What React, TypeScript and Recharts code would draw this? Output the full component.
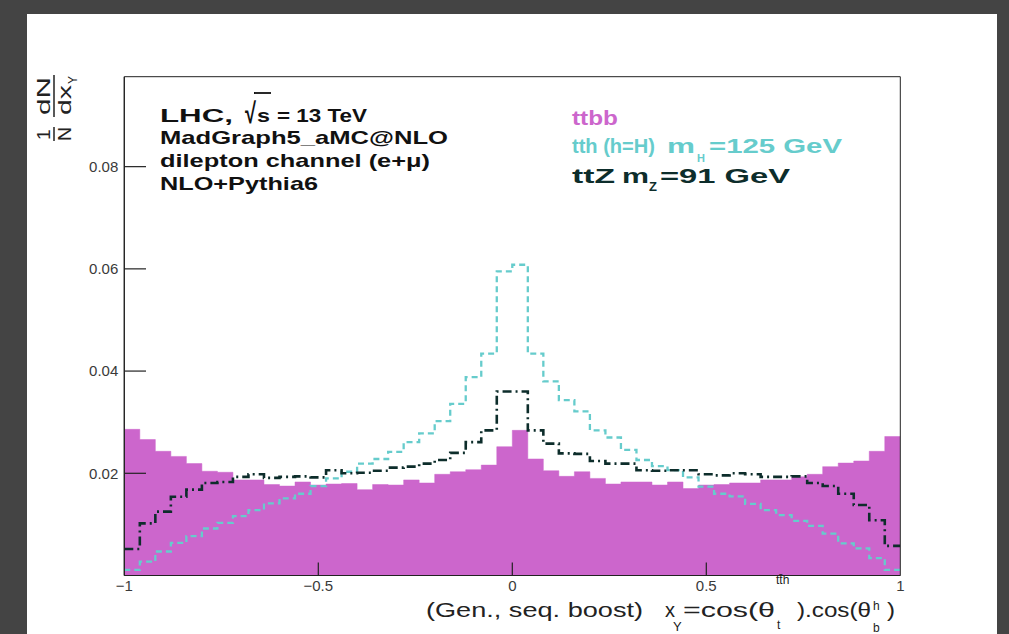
import React from "react";
import { ComposedChart, Area, Line, XAxis, YAxis, ReferenceLine } from "recharts";

// 50 bins from -1 to 1
const ttbb = [
  0.0286, 0.0266, 0.0243, 0.0233, 0.0219, 0.0204, 0.0202, 0.0187, 0.0187, 0.0178,
  0.0175, 0.0183, 0.0177, 0.0179, 0.018, 0.0168, 0.0178, 0.0177, 0.0187, 0.0181,
  0.0198, 0.0203, 0.0207, 0.0216, 0.0252, 0.0284, 0.0228, 0.0205, 0.0194, 0.0203,
  0.019, 0.0179, 0.0183, 0.0183, 0.0177, 0.0183, 0.017, 0.0177, 0.0178, 0.0181,
  0.0181, 0.0187, 0.0187, 0.0193, 0.0198, 0.0213, 0.022, 0.0224, 0.0243, 0.0272,
];
const tth = [
  0.0011, 0.0027, 0.0047, 0.0064, 0.0077, 0.0092, 0.0103, 0.0116, 0.0128, 0.0141,
  0.0151, 0.016, 0.0175, 0.019, 0.0203, 0.0219, 0.0228, 0.0242, 0.0261, 0.0278,
  0.0302, 0.0336, 0.0388, 0.0434, 0.0595, 0.0608, 0.0434, 0.038, 0.0343, 0.0321,
  0.0284, 0.027, 0.0246, 0.0226, 0.0214, 0.0206, 0.0192, 0.0174, 0.016, 0.0155,
  0.014, 0.0128, 0.0118, 0.0107, 0.0097, 0.0082, 0.0063, 0.0053, 0.0034, 0.0011,
];
const ttz = [
  0.0052, 0.0102, 0.0125, 0.0154, 0.0168, 0.0181, 0.0183, 0.0193, 0.0198, 0.0191,
  0.0193, 0.0194, 0.0192, 0.0206, 0.02, 0.0201, 0.0205, 0.0211, 0.0213, 0.0219,
  0.0226, 0.024, 0.0261, 0.0284, 0.036, 0.036, 0.0284, 0.0258, 0.0239, 0.0238,
  0.0224, 0.0219, 0.0219, 0.0206, 0.0205, 0.0206, 0.0206, 0.0198, 0.0196, 0.02,
  0.0198, 0.0193, 0.0193, 0.0194, 0.0181, 0.0175, 0.016, 0.0138, 0.0108, 0.0058,
];

const xTicks = [-1, -0.5, 0, 0.5, 1];
const yTicks = [0.02, 0.04, 0.06, 0.08];
const Y_MAX = 0.0976;

const X_MIN = -1;
const X_MAX = 1;
const BIN_W = (X_MAX - X_MIN) / ttbb.length;

// step data: one point per lower bin edge, plus the closing edge
const rows = ttbb.map((v, i) => ({ x: X_MIN + i * BIN_W, ttbb: v, tth: tth[i], ttz: ttz[i] }));
rows.push({ x: X_MAX, ttbb: ttbb[ttbb.length - 1], tth: tth[tth.length - 1], ttz: ttz[ttz.length - 1] });

// inward ROOT-style tick lengths, as fractions of the axis ranges
const X_TICK_LEN = Y_MAX * 0.026;
const Y_TICK_LEN = (X_MAX - X_MIN) * 0.028;

const FONT = "'Liberation Sans', Arial, Helvetica, sans-serif";
const PINK = "#cc66cc";
const CYAN = "#66cccc";
const DARK = "#0d2d2b";
const INK = "#222";

const fmtX = (v: number) => (v < 0 ? "\u2212" + Math.abs(v) : String(v));

function Labels() {
  const bold = { fontFamily: FONT, fontWeight: 700, fontSize: 19 } as const;
  const reg = { fontFamily: FONT, fontSize: 20 } as const;
  return (
    <svg width={1009} height={634} style={{ position: "absolute", left: 0, top: 0, pointerEvents: "none" }}>
      {/* y title: 1/N dN/dx_Y, rotated */}
      <g transform="translate(54,141) rotate(-90)" fill={INK} style={{ fontFamily: FONT, fontSize: 19 }}>
        <text x={1} y={-4}>1</text>
        <line x1={0} x2={14} y1={0} y2={0} stroke={INK} strokeWidth={1.5} />
        <text x={0} y={17} textLength={14} lengthAdjust="spacingAndGlyphs">N</text>
        <text x={26} y={-4} textLength={38} lengthAdjust="spacingAndGlyphs">dN</text>
        <line x1={24} x2={66} y1={0} y2={0} stroke={INK} strokeWidth={1.5} />
        <text x={26} y={17} textLength={30} lengthAdjust="spacingAndGlyphs">dx</text>
        <text x={57} y={23} style={{ fontSize: 12 }}>Y</text>
      </g>

      {/* left text block */}
      <g fill="#111" style={bold}>
        <text x={160} y={122} textLength={73} lengthAdjust="spacingAndGlyphs">LHC,</text>
        <text transform="translate(245,123) scale(1,1.45)" style={{ fontSize: 20 }}>√</text>
        <line x1={254} x2={271} y1={93} y2={93} stroke="#111" strokeWidth={1.8} />
        <text x={257} y={122} textLength={13} lengthAdjust="spacingAndGlyphs">s</text>
        <text x={277} y={122} textLength={90} lengthAdjust="spacingAndGlyphs">= 13 TeV</text>
        <text x={160} y={144} textLength={288} lengthAdjust="spacingAndGlyphs">MadGraph5_aMC@NLO</text>
        <text x={160} y={167} textLength={270} lengthAdjust="spacingAndGlyphs">dilepton channel (e+μ)</text>
        <text x={160} y={190} textLength={158} lengthAdjust="spacingAndGlyphs">NLO+Pythia6</text>
      </g>

      {/* legend text */}
      <g style={{ ...bold, fontSize: 20 }}>
        <text x={572} y={125} fill={PINK} textLength={46} lengthAdjust="spacingAndGlyphs">ttbb</text>
        <g fill={CYAN}>
          <text x={572} y={153} textLength={83} lengthAdjust="spacingAndGlyphs">tth (h=H)</text>
          <text x={667} y={153} textLength={28} lengthAdjust="spacingAndGlyphs">m</text>
          <text x={697} y={162} style={{ fontSize: 11 }}>H</text>
          <text x={709} y={153} textLength={133} lengthAdjust="spacingAndGlyphs">=125 GeV</text>
        </g>
        <g fill={DARK}>
          <text x={572} y={183} textLength={43} lengthAdjust="spacingAndGlyphs">ttZ</text>
          <text x={622} y={183} textLength={27} lengthAdjust="spacingAndGlyphs">m</text>
          <text x={649} y={191} style={{ fontSize: 13 }}>Z</text>
          <text x={660} y={183} textLength={130} lengthAdjust="spacingAndGlyphs">=91 GeV</text>
        </g>
      </g>

      {/* x title */}
      <g style={reg} fill={INK}>
        <text x={426} y={617} textLength={217} lengthAdjust="spacingAndGlyphs">(Gen., seq. boost)</text>
        <text x={665} y={617} textLength={10} lengthAdjust="spacingAndGlyphs">x</text>
        <text x={673} y={631} style={{ fontSize: 13 }}>Y</text>
        <text x={683} y={617} textLength={92} lengthAdjust="spacingAndGlyphs">=cos(θ</text>
        <text x={776} y={584} style={{ fontSize: 12 }}>tt̄h</text>
        <text x={777} y={629} style={{ fontSize: 12 }}>t</text>
        <text x={797} y={617} textLength={74} lengthAdjust="spacingAndGlyphs">).cos(θ</text>
        <text x={873} y={610} style={{ fontSize: 12 }}>h</text>
        <text x={873} y={632} style={{ fontSize: 12 }}>b</text>
        <text x={887} y={617} textLength={8} lengthAdjust="spacingAndGlyphs">)</text>
      </g>
    </svg>
  );
}

export default function App() {
  const tickStyle = { fontFamily: FONT, fontSize: 15, fill: "#3a3a3a" };
  return (
    <div style={{ position: "fixed", left: 0, top: 0, width: 1009, height: 634, background: "#444444", overflow: "hidden" }}>
      <div style={{ position: "absolute", left: 27, top: 14, width: 970, height: 640, background: "#ffffff" }} />
      <div style={{ position: "absolute", left: 0, top: 0 }}>
        <ComposedChart
          width={1009}
          height={634}
          data={rows}
          margin={{ top: 76.7, right: 108.7, bottom: 28.5, left: 64.3 }}
        >
          <XAxis
            dataKey="x"
            type="number"
            domain={[X_MIN, X_MAX]}
            ticks={xTicks}
            tickFormatter={fmtX}
            allowDataOverflow
            height={30}
            stroke={INK}
            tickLine={false}
            tickSize={-13}
            tickMargin={18}
            tick={tickStyle}
          />
          <YAxis
            type="number"
            domain={[0, Y_MAX]}
            ticks={yTicks}
            tickFormatter={(v: number) => v.toFixed(2)}
            allowDataOverflow
            width={60}
            stroke={INK}
            tickLine={false}
            tickSize={-22}
            tickMargin={28}
            tick={tickStyle}
          />
          <Area
            type="stepAfter"
            dataKey="ttbb"
            stroke={PINK}
            strokeWidth={0.5}
            fill={PINK}
            fillOpacity={1}
            isAnimationActive={false}
            dot={false}
            activeDot={false}
          />
          <Line
            type="stepAfter"
            dataKey="tth"
            stroke={CYAN}
            strokeWidth={2.3}
            strokeDasharray="6 4"
            dot={false}
            activeDot={false}
            isAnimationActive={false}
          />
          <Line
            type="stepAfter"
            dataKey="ttz"
            stroke={DARK}
            strokeWidth={2.6}
            strokeDasharray="9 4 2 4"
            dot={false}
            activeDot={false}
            isAnimationActive={false}
          />
          {/* frame */}
          <ReferenceLine y={0} stroke={INK} strokeWidth={1.2} />
          <ReferenceLine y={Y_MAX} stroke={INK} strokeWidth={1} />
          <ReferenceLine x={X_MIN} stroke={INK} strokeWidth={1.2} />
          <ReferenceLine x={X_MAX} stroke={INK} strokeWidth={1} />
          {/* inward tick marks */}
          {xTicks.slice(1, -1).map((t) => (
            <ReferenceLine key={"xt" + t} segment={[{ x: t, y: 0 }, { x: t, y: X_TICK_LEN }]} stroke={INK} strokeWidth={1.2} />
          ))}
          {yTicks.map((t) => (
            <ReferenceLine key={"yt" + t} segment={[{ x: X_MIN, y: t }, { x: X_MIN + Y_TICK_LEN, y: t }]} stroke={INK} strokeWidth={1.2} />
          ))}
        </ComposedChart>
      </div>
      <Labels />
    </div>
  );
}
